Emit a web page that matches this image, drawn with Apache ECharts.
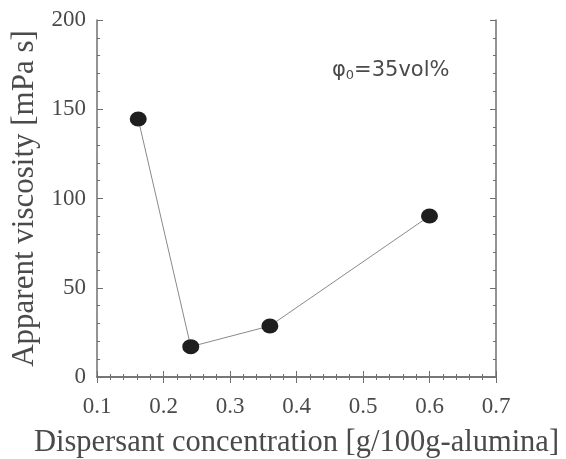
<!DOCTYPE html>
<html>
<head>
<meta charset="utf-8">
<script src="https://cdn.jsdelivr.net/npm/echarts@6/dist/echarts.min.js"></script>
<style>
    html, body { margin: 0; padding: 0; background: #fff; }
    #chart { width: 566px; height: 459px; }
</style>
</head>
<body>
<div id="chart"></div>
<script>
    // dispersant concentration [g/100g-alumina] vs apparent viscosity [mPa s]
    var concentration = [0.162, 0.241, 0.36, 0.6]
    var viscosity = [144.5, 17, 28.6, 90.2]
    var xTicks = [0.1, 0.2, 0.3, 0.4, 0.5, 0.6, 0.7]
    var yTicks = [0, 50, 100, 150, 200]

    var serif = '"Liberation Serif", "DejaVu Serif", serif'
    var axisGrey = '#6f6f6f'
    var textGrey = '#4a4a4a'

    var myChart = echarts.init(document.getElementById('chart'))

    function frameAxis(extra) {
        var base = {
            type: 'value',
            axisLine: { show: true, lineStyle: { color: axisGrey, width: 1.5 } },
            axisTick: { show: true, inside: true, length: 6, lineStyle: { color: axisGrey, width: 1 } },
            minorTick: { show: true, splitNumber: 5, length: 3, lineStyle: { color: axisGrey, width: 1 } },
            splitLine: { show: false },
            axisLabel: { show: false }
        }
        return Object.assign(base, extra)
    }

    var data = concentration.map(function (c, i) { return [c, viscosity[i]] })

    let option = {
        backgroundColor: '#fff',
        animation: false,
        grid: { left: 97, right: 70, top: 20, bottom: 82, outerBoundsMode: 'none' },
        xAxis: [
            frameAxis({
                position: 'bottom',
                min: xTicks[0],
                max: xTicks[xTicks.length - 1],
                interval: 0.1,
                name: 'Dispersant concentration [g/100g-alumina]',
                nameLocation: 'middle',
                nameGap: 50,
                nameTextStyle: { fontFamily: serif, fontSize: 30.5, color: textGrey },
                axisLabel: {
                    show: true,
                    margin: 18,
                    fontFamily: serif,
                    fontSize: 23,
                    color: textGrey,
                    formatter: function (v) { return v.toFixed(1) }
                }
            }),
            frameAxis({
                position: 'top',
                min: xTicks[0],
                max: xTicks[xTicks.length - 1],
                interval: 0.1
            })
        ],
        yAxis: [
            frameAxis({
                position: 'left',
                min: yTicks[0],
                max: yTicks[yTicks.length - 1],
                interval: 50,
                name: 'Apparent viscosity [mPa s]',
                nameLocation: 'middle',
                nameGap: 56,
                nameTextStyle: { fontFamily: serif, fontSize: 31, color: textGrey },
                axisLabel: {
                    show: true,
                    margin: 11,
                    fontFamily: serif,
                    fontSize: 23,
                    color: textGrey
                }
            }),
            frameAxis({
                position: 'right',
                min: yTicks[0],
                max: yTicks[yTicks.length - 1],
                interval: 50
            })
        ],
        graphic: [{
            type: 'text',
            left: 332,
            top: 60,
            style: {
                text: '{p|φ}{s|0}{p|=35vol%}',
                fill: textGrey,
                rich: {
                    p: { fontFamily: '"DejaVu Sans", sans-serif', fontSize: 21, fill: textGrey },
                    s: { fontFamily: '"DejaVu Sans", sans-serif', fontSize: 13, fill: textGrey, padding: [10, 0, 0, 0] }
                }
            }
        }],
        series: [{
            type: 'line',
            data,
            xAxisIndex: 0,
            yAxisIndex: 0,
            symbol: 'circle',
            symbolSize: [17, 15],
            lineStyle: { color: '#8a8a8a', width: 1 },
            itemStyle: { color: '#1e1e1e' },
            label: { show: false }
        }]
    }
    myChart.setOption(option)
</script>
</body>
</html>
